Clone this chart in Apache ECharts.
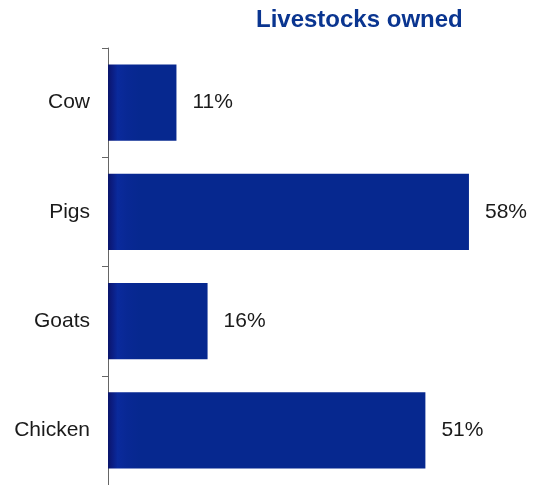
<!DOCTYPE html>
<html>
<head>
<meta charset="utf-8">
<script src="https://cdn.jsdelivr.net/npm/echarts@6/dist/echarts.min.js"></script>
<style>
  html, body { margin: 0; padding: 0; background: #ffffff; }
  #chart { width: 535px; height: 485px; }
</style>
</head>
<body>
<div id="chart"></div>
<script>
// Share of households owning each kind of livestock (%)
const categories = ['Cow', 'Pigs', 'Goats', 'Chicken'];
const shares = [11, 58, 16, 51];
const chartTitle = 'Livestocks owned';

const chart = echarts.init(document.getElementById('chart'), null, { renderer: 'canvas' });

// Bar fill: deep blue with a darker band along the base (fixed pixel width)
const barFill = new echarts.graphic.LinearGradient(108, 0, 140, 0, [
  { offset: 0, color: '#0a156a' },
  { offset: 0.12, color: '#0b1c80' },
  { offset: 0.3, color: '#0a2a9c' },
  { offset: 0.6, color: '#082894' },
  { offset: 1, color: '#06288f' }
], true);

chart.setOption({
  backgroundColor: '#ffffff',
  animation: false,
  title: {
    text: chartTitle,
    left: 251,
    top: 3,
    textStyle: {
      fontFamily: 'Liberation Sans, Arial, sans-serif',
      fontSize: 24,
      fontWeight: 'bold',
      color: '#0a3590'
    }
  },
  grid: {
    left: 108,
    top: 48,
    width: 373.4,
    height: 437,
    containLabel: false
  },
  xAxis: {
    type: 'value',
    min: 0,
    max: 60,
    show: false
  },
  yAxis: {
    type: 'category',
    data: categories,
    inverse: true,
    axisLine: { show: true, lineStyle: { color: '#666666', width: 1 } },
    axisTick: { show: true, length: 6, lineStyle: { color: '#666666' } },
    axisLabel: {
      margin: 18,
      fontFamily: 'Liberation Sans, Arial, sans-serif',
      fontSize: 21,
      color: '#1a1a1a'
    },
    splitLine: { show: false }
  },
  series: [{
    type: 'bar',
    data: shares,
    barCategoryGap: '30%',
    itemStyle: { color: barFill },
    label: {
      show: true,
      position: 'right',
      distance: 16,
      formatter: '{c}%',
      fontFamily: 'Liberation Sans, Arial, sans-serif',
      fontSize: 21,
      color: '#1a1a1a'
    }
  }]
});
</script>
</body>
</html>
